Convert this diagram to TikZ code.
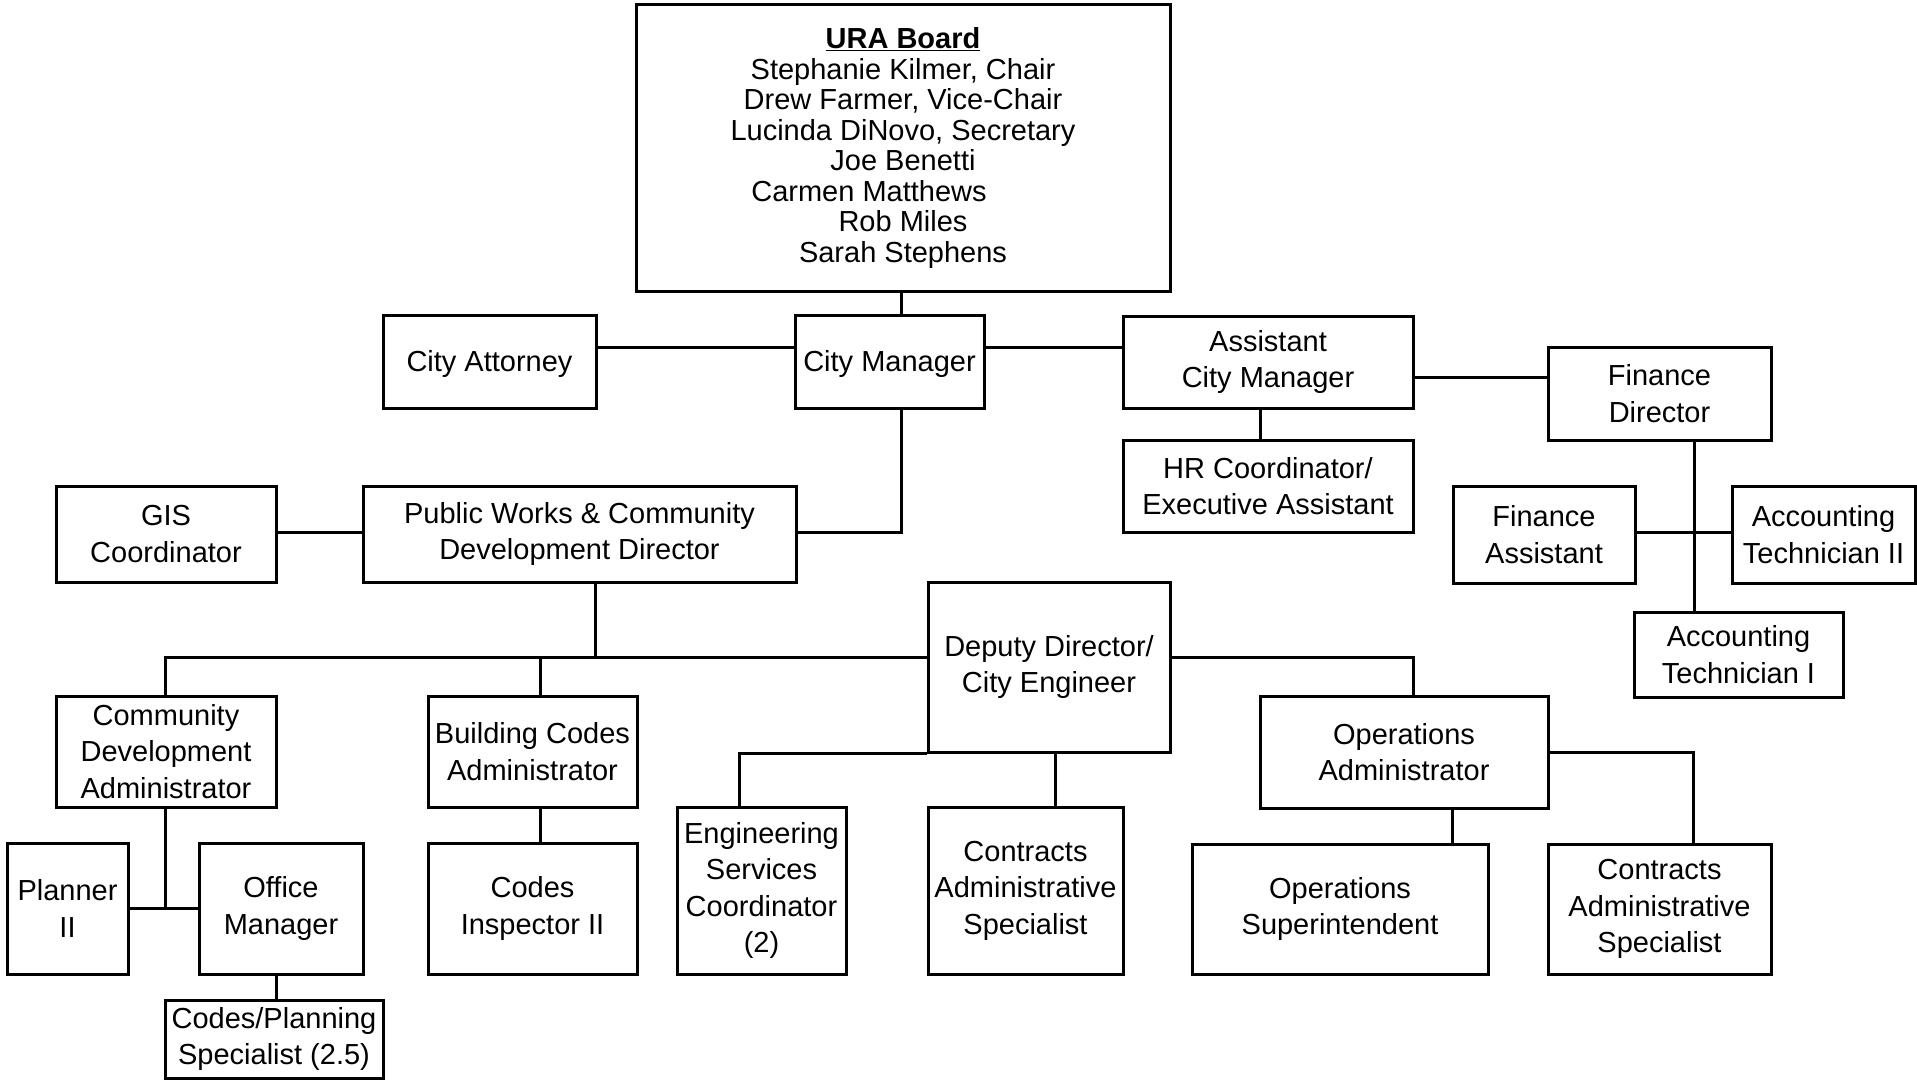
\documentclass[tikz,border=0pt]{standalone}
\usepackage{fontspec}
\setmainfont{Liberation Sans}
\begin{document}
\begin{tikzpicture}[x=1pt,y=-1pt,
  box/.style={draw, line width=3pt, inner sep=0pt, align=center,
    font=\fontsize{29pt}{36.5pt}\selectfont,
    execute at begin node={\rule{0pt}{26pt}}},
  board/.style={box, font=\fontsize{29pt}{30.6pt}\selectfont},
  link/.style={line width=3pt}]
\path[use as bounding box, fill=white] (0,0) rectangle (1917,1081);

% nodes
\node[board, minimum width=534pt, minimum height=286pt] (URA) at (903,148)
  {\underline{\textbf{URA Board}}\\Stephanie Kilmer, Chair\\Drew Farmer, Vice-Chair\\Lucinda DiNovo, Secretary\\Joe Benetti\\\mbox{Carmen Matthews\hspace{68pt}}\\Rob Miles\\Sarah Stephens};
\node[box, minimum width=213pt, minimum height=93pt] (CA) at (489.5,361.5) {City Attorney};
\node[box, minimum width=189pt, minimum height=93pt] (CM) at (889.5,361.5) {City Manager};
\node[box, minimum width=290pt, minimum height=92pt] (ACM) at (1268,362) {Assistant\\City Manager};
\node[box, minimum width=223pt, minimum height=93pt] (FD) at (1659.5,393.5) {Finance\\Director};
\node[box, minimum width=290pt, minimum height=92pt] (HR) at (1268,486) {HR Coordinator/\\Executive Assistant};
\node[box, minimum width=182pt, minimum height=97pt] (FA) at (1544,534.5) {Finance\\Assistant};
\node[box, minimum width=183pt, minimum height=97pt] (AT2) at (1823.5,534.5) {Accounting\\Technician II};
\node[box, minimum width=209pt, minimum height=85pt] (AT1) at (1738.5,654.5) {Accounting\\Technician I};
\node[box, minimum width=220pt, minimum height=96pt] (GIS) at (166,534) {GIS\\Coordinator};
\node[box, minimum width=433pt, minimum height=96pt] (PW) at (579.5,534) {Public Works \& Community\\Development Director};
\node[box, minimum width=242pt, minimum height=170pt] (DD) at (1049,667) {Deputy Director/\\City Engineer};
\node[box, minimum width=220pt, minimum height=111pt] (CDA) at (166,751.5) {Community\\Development\\Administrator};
\node[box, minimum width=209pt, minimum height=111pt] (BCA) at (532.5,751.5) {Building Codes\\Administrator};
\node[box, minimum width=288pt, minimum height=112pt] (OA) at (1404,752) {Operations\\Administrator};
\node[box, minimum width=121pt, minimum height=131pt] (PL) at (67.5,908.5) {Planner\\II};
\node[box, minimum width=164pt, minimum height=131pt] (OM) at (281,908.5) {Office\\Manager};
\node[box, minimum width=209pt, minimum height=131pt] (CI) at (532.5,908.5) {Codes\\Inspector II};
\node[box, minimum width=169pt, minimum height=167pt] (ESC) at (761.5,890.5) {Engineering\\Services\\Coordinator\\(2)};
\node[box, minimum width=195pt, minimum height=167pt] (CAS1) at (1025.5,890.5) {Contracts\\Administrative\\Specialist};
\node[box, minimum width=296pt, minimum height=130pt] (OS) at (1340,909) {Operations\\Superintendent};
\node[box, minimum width=223pt, minimum height=130pt] (CAS2) at (1659.5,909) {Contracts\\Administrative\\Specialist};
\node[box, minimum width=218pt, minimum height=78pt] (CPS) at (274,1039) {Codes/Planning\\Specialist (2.5)};

% routing coordinates
\coordinate (cmrow) at (0,347);
\coordinate (fdrow) at (0,377);
\coordinate (farow) at (0,532);
\coordinate (r2) at (0,657);
\coordinate (r3) at (0,752);
\coordinate (cmcol) at (901,0);
\coordinate (hrcol) at (1260,0);
\coordinate (fdcol) at (1694,0);
\coordinate (pwcol) at (595,0);
\coordinate (bccol) at (540,0);
\coordinate (oacol) at (1413,0);
\coordinate (escol) at (739,0);
\coordinate (c1col) at (1055,0);
\coordinate (oscol) at (1452,0);
\coordinate (c2col) at (1693,0);
\coordinate (omcol) at (276,0);
\coordinate (cdcol) at (165,0);

% connectors
\draw[link] (cmcol |- URA.south) -- (cmcol |- CM.north);
\draw[link] (CA.east |- cmrow) -- (CM.west |- cmrow);
\draw[link] (CM.east |- cmrow) -- (ACM.west |- cmrow);
\draw[link] (ACM.east |- fdrow) -- (FD.west |- fdrow);
\draw[link] (hrcol |- ACM.south) -- (hrcol |- HR.north);
\draw[link] (fdcol |- FD.south) -- (fdcol |- AT1.north);
\draw[link] (FA.east |- farow) -- (AT2.west |- farow);
\draw[link] (cmcol |- CM.south) |- (PW.east |- farow);
\draw[link] (GIS.east |- farow) -- (PW.west |- farow);
\draw[link] (pwcol |- PW.south) -- (pwcol |- r2);
\draw[link] (cdcol |- CDA.north) |- (DD.west |- r2);
\draw[link] (bccol |- r2) -- (bccol |- BCA.north);
\draw[link] (DD.east |- r2) -| (oacol |- OA.north);
\draw[link] (escol |- ESC.north) |- (DD.south west);
\draw[link] (c1col |- DD.south) -- (c1col |- CAS1.north);
\draw[link] (oscol |- OA.south) -- (oscol |- OS.north);
\draw[link] (OA.east |- r3) -| (c2col |- CAS2.north);
\draw[link] (cdcol |- CDA.south) -- (cdcol |- PL.east);
\draw[link] (PL.east) -- (OM.west);
\draw[link] (omcol |- OM.south) -- (omcol |- CPS.north);
\draw[link] (bccol |- BCA.south) -- (bccol |- CI.north);
\end{tikzpicture}
\end{document}
